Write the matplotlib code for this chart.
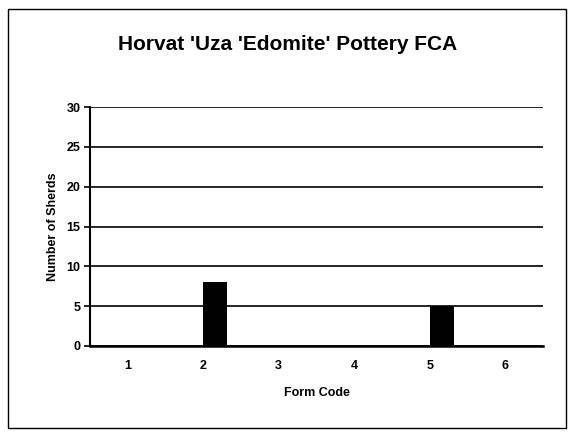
import matplotlib
matplotlib.use("Agg")
import matplotlib.pyplot as plt
from matplotlib.patches import Rectangle

plt.rcParams['font.family'] = ['Liberation Sans', 'DejaVu Sans']

form_codes = [1, 2, 3, 4, 5, 6]
sherds = [0, 8, 0, 0, 5, 0]
y_ticks = [0, 5, 10, 15, 20, 25, 30]

fig = plt.figure(figsize=(5.76, 4.37), dpi=100)
fig.patch.set_facecolor('white')

# chart border
fig.add_artist(Rectangle((8 / 576, 9 / 437), 558 / 576, 419 / 437,
                         transform=fig.transFigure, fill=False,
                         edgecolor='black', linewidth=1.0))

ax = fig.add_axes([90 / 576, 91 / 437, 453 / 576, 239 / 437])
x = list(range(len(form_codes)))
ax.bar(x, sherds, width=0.32, align='edge', color='black', zorder=3)

ax.set_xlim(-0.5, len(form_codes) - 0.5)
ax.set_ylim(0, 30)
ax.set_yticks(y_ticks)
ax.set_xticks(x)
ax.set_xticklabels([str(c) for c in form_codes])
ax.yaxis.grid(True, color='black', linewidth=1.2, zorder=1)
ax.set_axisbelow(True)

for side in ['top', 'right']:
    ax.spines[side].set_visible(False)
ax.spines['left'].set_linewidth(1.5)
ax.spines['bottom'].set_linewidth(1.8)

ax.tick_params(axis='y', direction='out', length=4, width=1.2, labelsize=9, pad=3)
ax.tick_params(axis='x', length=0, labelsize=9, pad=10)
for lbl in ax.get_xticklabels() + ax.get_yticklabels():
    lbl.set_fontweight('bold')

ax.set_xlabel('Form Code', fontsize=9, fontweight='bold', labelpad=11)
ax.set_ylabel('Number of Sherds', fontsize=9, fontweight='bold', labelpad=5)

fig.text(0.5, 392 / 437, "Horvat 'Uza 'Edomite' Pottery FCA",
         ha='center', va='center', fontsize=15, fontweight='bold')

fig.savefig('out.png', dpi=100)
